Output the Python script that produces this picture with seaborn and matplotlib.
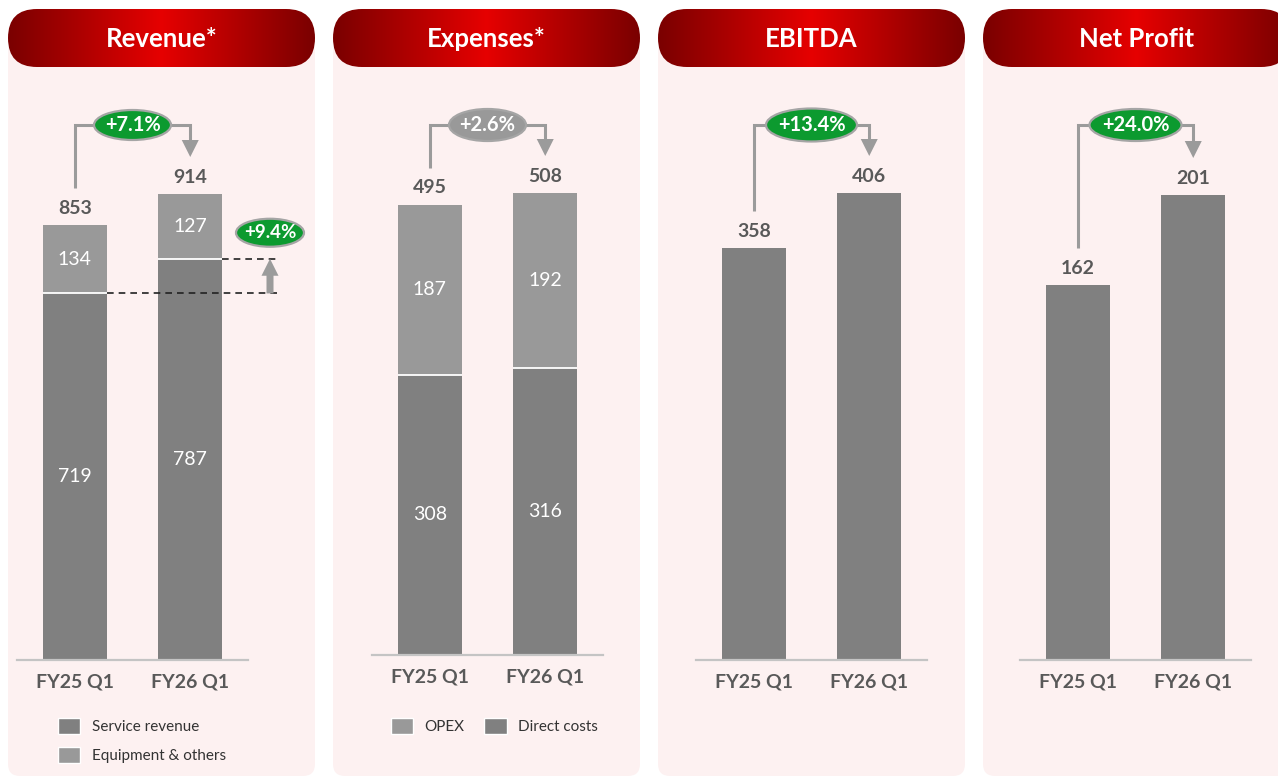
import numpy as np
import matplotlib
matplotlib.use("Agg")
import matplotlib.pyplot as plt
import seaborn as sns
from matplotlib.patches import FancyBboxPatch, Ellipse, Polygon, Patch, FancyArrow
from matplotlib.colors import LinearSegmentedColormap

# ---------------- data ----------------
periods = ["FY25 Q1", "FY26 Q1"]
service_revenue = [719, 787]
equipment_others = [134, 127]
opex = [187, 192]
direct_costs = [308, 316]
ebitda = [358, 406]
net_profit = [162, 201]
titles = ["Revenue*", "Expenses*", "EBITDA", "Net Profit"]
growth_labels = ["+7.1%", "+2.6%", "+13.4%", "+24.0%"]
service_growth_label = "+9.4%"
legend1_labels = ["Service revenue", "Equipment & others"]
legend2_labels = ["OPEX", "Direct costs"]

# ---------------- style ----------------
sns.set_theme(style="white")
plt.rcParams["font.family"] = ["Lato", "DejaVu Sans"]

W, H = 1278, 778
fig = plt.figure(figsize=(W / 100, H / 100), dpi=100)
fig.patch.set_facecolor("white")

PINK = "#fdf1f1"
DARK = "#808080"
LIGHT = "#999999"
TXT = "#595959"
LINE = "#9b9b9b"
GREEN = "#0c9a2f"

bg = fig.add_axes([0, 0, 1, 1], zorder=0)
bg.axis("off")
ov = fig.add_axes([0, 0, 1, 1], zorder=5)
ov.axis("off")
ov.patch.set_alpha(0)
ov.set_xlim(0, W)
ov.set_ylim(H, 0)

panel_left = [8, 333, 658, 983]
panel_w = 307
cmap = LinearSegmentedColormap.from_list(
    "hdr", ["#7a0000", "#b00000", "#e60000", "#b00000", "#7a0000"])
grad = np.linspace(0, 1, 256)[None, :]

for x0, t in zip(panel_left, titles):
    bg.add_patch(FancyBboxPatch((x0, 40), panel_w, 736,
                                boxstyle="round,pad=0,rounding_size=12",
                                fc=PINK, ec="none", zorder=1))
    hdr = FancyBboxPatch((x0, 9), panel_w, 58,
                         boxstyle="round,pad=0,rounding_size=29",
                         fc="none", ec="none", zorder=2)
    bg.add_patch(hdr)
    im = bg.imshow(grad, cmap=cmap, extent=(x0, x0 + panel_w, 67, 9),
                   aspect="auto", zorder=2, interpolation="bilinear")
    im.set_clip_path(hdr)
    bg.text(x0 + panel_w / 2, 39, t, color="white", fontsize=18.5,
            fontweight="bold", ha="center", va="center", zorder=3)
bg.set_xlim(0, W)
bg.set_ylim(H, 0)

# ---------------- bar panels ----------------
panels = [
    dict(bottom=service_revenue, top=equipment_others, left=17, base=660, maxpx=466),
    dict(bottom=direct_costs, top=opex, left=372, base=655, maxpx=462),
    dict(bottom=ebitda, top=None, left=696, base=660, maxpx=467),
    dict(bottom=net_profit, top=None, left=1020, base=660, maxpx=465),
]
ellipse_w = [77, 77, 91, 92]
ellipse_h = [30, 32, 33, 32]
ellipse_fc = [GREEN, "#999999", GREEN, GREEN]
TOP = 80
BW = 0.55


def to_px(ax, x, y):
    d = ax.transData.transform((x, y))
    return ov.transData.inverted().transform(d)


axes = []
for i, p in enumerate(panels):
    L, b = p["left"], p["base"]
    ax = fig.add_axes([L / W, 1 - b / H, 231 / W, (b - TOP) / H], zorder=3)
    ax.patch.set_alpha(0)
    bottom = p["bottom"]
    top = p["top"]
    totals = [u + v for u, v in zip(bottom, top)] if top else list(bottom)
    if top:
        sns.barplot(x=periods, y=totals, color=LIGHT, width=BW, saturation=1,
                    ax=ax, linewidth=0)
    sns.barplot(x=periods, y=bottom, color=DARK, width=BW, saturation=1,
                ax=ax, linewidth=0)
    ax.set_xlim(-0.5, 1.5)
    ax.set_ylim(0, max(totals) * (b - TOP) / p["maxpx"])
    ax.set_yticks([])
    ax.set_xlabel("")
    ax.set_ylabel("")
    for s in ["left", "right", "top"]:
        ax.spines[s].set_visible(False)
    ax.spines["bottom"].set_color("#c4c4c4")
    ax.spines["bottom"].set_linewidth(1.6)
    ax.tick_params(axis="x", length=0, pad=10, labelsize=14, labelcolor=TXT)
    for lbl in ax.get_xticklabels():
        lbl.set_fontweight("bold")

    for j in range(2):
        if top:
            ax.hlines(bottom[j], j - BW / 2, j + BW / 2, color="white", lw=1.3, zorder=4)
            ax.text(j, bottom[j] / 2, str(bottom[j]), color="white", fontsize=14,
                    ha="center", va="center", zorder=5)
            ax.text(j, bottom[j] + top[j] / 2, str(top[j]), color="white",
                    fontsize=14, ha="center", va="center", zorder=5)
        ax.annotate(str(totals[j]), (j, totals[j]), xytext=(0, 12.2),
                    textcoords="offset points", ha="center", va="center",
                    fontsize=14, fontweight="bold", color=TXT)
    axes.append(ax)

    # growth bracket
    x1, y1 = to_px(ax, 0, totals[0])
    x2, y2 = to_px(ax, 1, totals[1])
    ys, tip, ytop = y1 - 37, y2 - 37, 125
    ov.plot([x1, x1, x2, x2], [ys, ytop, ytop, tip - 15], color=LINE, lw=2.2,
            solid_joinstyle="miter", solid_capstyle="butt", zorder=2)
    ov.add_patch(Polygon([[x2 - 8.5, tip - 17], [x2 + 8.5, tip - 17], [x2, tip]],
                         closed=True, fc=LINE, ec="none", zorder=2))
    cx = (x1 + x2) / 2
    ov.add_patch(Ellipse((cx, ytop), ellipse_w[i], ellipse_h[i], fc=ellipse_fc[i],
                         ec="#a5a5a5", lw=1.6, zorder=3))
    ov.text(cx, ytop, growth_labels[i], color="white", fontsize=14.5,
            fontweight="bold", ha="center", va="center", zorder=4)

# ---------------- service revenue growth marker ----------------
ax1 = axes[0]
xa, ya = to_px(ax1, BW / 2, service_revenue[0])
xb, yb = to_px(ax1, 1 + BW / 2, service_revenue[1])
ov.plot([xa, 280], [ya, ya], color="#222222", lw=1.2, ls=(0, (4, 3)), zorder=2)
ov.plot([xb, 280], [yb, yb], color="#222222", lw=1.2, ls=(0, (4, 3)), zorder=2)
ov.add_patch(FancyArrow(270, ya, 0, yb - ya, width=7, head_width=17,
                        head_length=17, length_includes_head=True,
                        fc=LINE, ec="none", zorder=2))
ov.add_patch(Ellipse((270, yb - 26), 68, 28, fc=GREEN, ec="#a5a5a5", lw=1.6, zorder=3))
ov.text(270, yb - 26, service_growth_label, color="white", fontsize=13.5,
        fontweight="bold", ha="center", va="center", zorder=4)

# ---------------- legends ----------------
leg_kw = dict(frameon=False, fontsize=11, handlelength=1.45, handleheight=1.25,
              handletextpad=0.75, borderpad=0, borderaxespad=0,
              bbox_transform=ov.transData, labelcolor="#333333")
axes[0].legend([Patch(fc=DARK), Patch(fc=LIGHT)], legend1_labels,
               loc="upper left", bbox_to_anchor=(58, 718), ncol=1,
               labelspacing=0.85, **leg_kw)
axes[1].legend([Patch(fc=LIGHT), Patch(fc=DARK)], legend2_labels,
               loc="upper left", bbox_to_anchor=(391, 718), ncol=2,
               columnspacing=1.3, **leg_kw)

fig.savefig("out.png", dpi=100)
